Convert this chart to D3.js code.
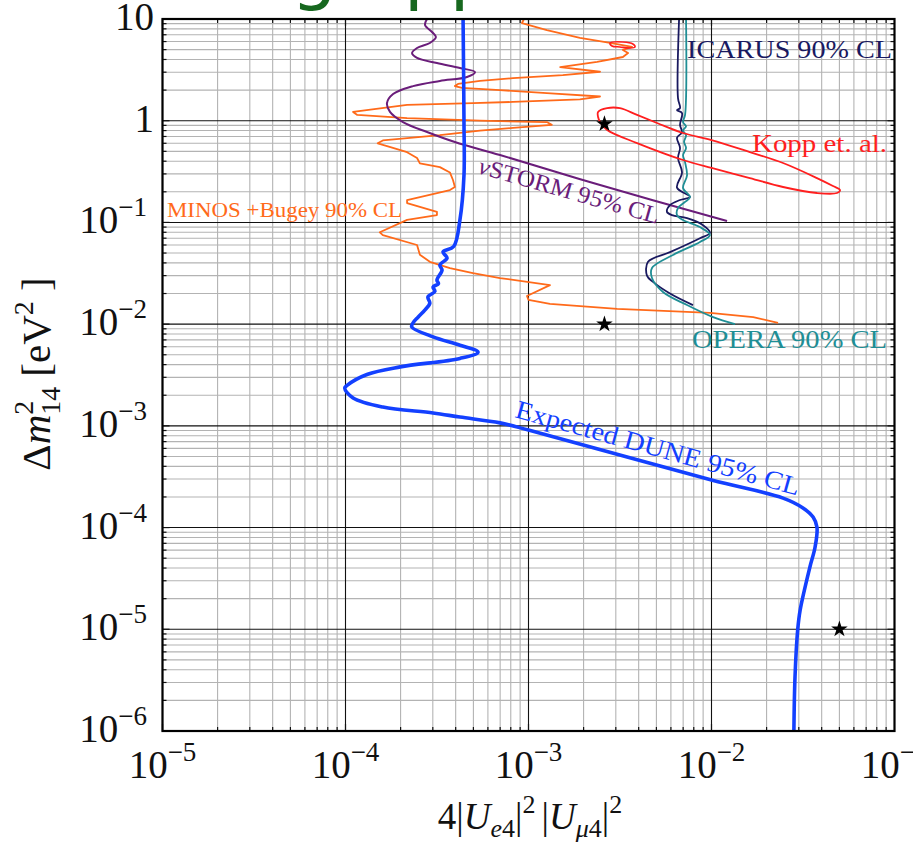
<!DOCTYPE html>
<html>
<head>
<meta charset="utf-8">
<script src="https://cdn.jsdelivr.net/npm/d3@7"></script>
<style>
  html, body { margin: 0; padding: 0; background: #fff; }
  svg { display: block; }
</style>
</head>
<body>
<svg id="chart" width="913" height="846"></svg>
<script>
// ---- Data: x = 4|Ue4|^2|Uμ4|^2, y = Δm²14 [eV²] ----
const duneExpected = [
  [4.39e-4, 10], [4.44e-4, 1], [4.44e-4, 0.29], [4.22e-4, 0.106], [3.90e-4, 0.058],
  [3.41e-4, 0.0512], [3.59e-4, 0.0447], [3.28e-4, 0.0381], [3.37e-4, 0.034],
  [3.16e-4, 0.0271], [3.22e-4, 0.025], [3.01e-4, 0.0232], [3.08e-4, 0.021], [2.82e-4, 0.0185],
  [2.89e-4, 0.0161], [2.72e-4, 0.0138], [2.49e-4, 0.0117], [2.34e-4, 0.0103],
  [2.30e-4, 0.0094], [3.01e-4, 0.0075], [4.22e-4, 0.0062], [5.30e-4, 0.0053],
  [4.22e-4, 0.0046], [1.99e-4, 0.0038], [1.31e-4, 0.0032], [1.02e-4, 0.0025],
  [9.9e-5, 0.00235], [1.10e-4, 0.00188], [1.60e-4, 0.00153], [3.01e-4, 0.00134],
  [4.22e-4, 0.00122], [6.99e-4, 0.00107], [1.0e-3, 9.1e-4], [1.0e-2, 2.93e-4],
  [0.0246, 1.95e-4], [0.0316, 1.56e-4], [0.0359, 1.27e-4], [0.0377, 1.01e-4],
  [0.0368, 6.4e-5], [0.0345, 4.1e-5], [0.0305, 1.54e-5], [0.0296, 1.0e-5],
  [0.0286, 3.4e-6], [0.0282, 1e-6]
];

const minosBugey = [
  [9.45e-4, 10], [9.21e-4, 9.13], [1.26e-3, 7.79], [1.91e-3, 6.51], [2.79e-3, 5.81],
  [3.68e-3, 5.31], [3.28e-3, 4.96], [3.50e-3, 4.63], [3.28e-3, 4.23], [2.37e-3, 3.78],
  [1.49e-3, 3.37], [2.46e-3, 3.03], [1.54e-3, 2.81], [8.23e-4, 2.62], [5.43e-4, 2.46],
  [4.12e-4, 2.30], [3.96e-4, 2.19], [4.33e-4, 2.10], [6.99e-4, 2.00], [1.26e-3, 1.87],
  [2.46e-3, 1.73], [1.91e-3, 1.62], [8.23e-4, 1.53], [4.97e-4, 1.49], [2.17e-4, 1.43],
  [1.10e-4, 1.22], [1.16e-4, 1.14], [2.17e-4, 1.06], [5.43e-4, 1.00], [1.26e-3, 0.97],
  [1.34e-3, 0.91], [8.23e-4, 0.85], [5.43e-4, 0.80], [3.28e-4, 0.72], [1.60e-4, 0.64],
  [1.50e-4, 0.60], [1.76e-4, 0.55], [2.17e-4, 0.49], [2.46e-4, 0.43], [2.55e-4, 0.38],
  [3.28e-4, 0.35], [3.72e-4, 0.31], [3.87e-4, 0.26], [3.96e-4, 0.223], [3.72e-4, 0.208],
  [2.17e-4, 0.166], [2.17e-4, 0.155], [3.16e-4, 0.127], [3.16e-4, 0.118], [2.17e-4, 0.106],
  [1.54e-4, 0.080], [1.60e-4, 0.075], [2.46e-4, 0.060], [2.55e-4, 0.048], [2.89e-4, 0.041],
  [3.72e-4, 0.0356], [4.97e-4, 0.0318], [6.99e-4, 0.0284], [1.31e-3, 0.0242],
  [9.81e-4, 0.0189], [1.0e-3, 0.0173], [1.31e-3, 0.0158], [3.05e-3, 0.0141],
  [9.81e-3, 0.0129], [0.0169, 0.0117], [0.0231, 0.0103]
];

const nuStorm = [
  [2.79e-4, 10], [2.72e-4, 8.73], [2.97e-4, 7.45], [3.12e-4, 6.65], [2.89e-4, 5.81],
  [2.46e-4, 5.19], [2.31e-4, 4.63], [2.46e-4, 4.14], [3.16e-4, 3.69], [4.22e-4, 3.30],
  [5.10e-4, 3.01], [4.61e-4, 2.69], [3.28e-4, 2.46], [2.34e-4, 2.19], [1.82e-4, 1.83],
  [1.685e-4, 1.49], [1.75e-4, 1.22], [2.06e-4, 0.971], [2.79e-4, 0.774], [3.96e-4, 0.617],
  [6.99e-4, 0.46], [2.46e-3, 0.233], [0.01216, 0.1032]
];

const icarus = [
  [6.65e-3, 10], [6.56e-3, 1.67], [6.73e-3, 1.33], [6.48e-3, 1.27], [6.90e-3, 1.19],
  [6.73e-3, 0.91], [6.90e-3, 0.77], [6.48e-3, 0.68], [6.73e-3, 0.54], [6.56e-3, 0.43],
  [6.90e-3, 0.31], [6.48e-3, 0.22], [7.63e-3, 0.178], [6.73e-3, 0.166], [5.93e-3, 0.148],
  [5.71e-3, 0.127], [6.08e-3, 0.118], [7.35e-3, 0.11], [8.99e-3, 0.094], [9.81e-3, 0.079],
  [8.65e-3, 0.070], [5.93e-3, 0.051], [4.50e-3, 0.041], [4.44e-3, 0.030], [4.79e-3, 0.026],
  [5.93e-3, 0.020], [7.92e-3, 0.0154]
];

const opera = [
  [7.26e-3, 10], [7.17e-3, 1.14], [6.99e-3, 0.97], [7.26e-3, 0.88], [6.99e-3, 0.80],
  [7.26e-3, 0.72], [7.08e-3, 0.62], [7.26e-3, 0.54], [6.99e-3, 0.46], [7.17e-3, 0.39],
  [7.35e-3, 0.29], [6.99e-3, 0.218], [7.63e-3, 0.178], [7.17e-3, 0.159], [6.56e-3, 0.1385],
  [6.48e-3, 0.118], [6.99e-3, 0.1056], [8.65e-3, 0.090], [9.81e-3, 0.0752], [8.65e-3, 0.0642],
  [6.16e-3, 0.0478], [4.73e-3, 0.0356], [4.73e-3, 0.0284], [5.43e-3, 0.0207],
  [7.35e-3, 0.0154], [0.0102, 0.0117], [0.01344, 0.0100]
];

const koppMain = [
  [2.40e-3, 1.22], [2.69e-3, 1.33], [3.16e-3, 1.33], [3.92e-3, 1.14], [5.04e-3, 0.95],
  [6.99e-3, 0.757], [0.010, 0.646], [0.0162, 0.492], [0.0246, 0.384], [0.0377, 0.273],
  [0.0461, 0.228], [0.0504, 0.208], [0.0485, 0.1946], [0.0377, 0.1946], [0.0246, 0.223],
  [0.0162, 0.273], [0.010, 0.343], [6.99e-3, 0.411], [3.92e-3, 0.603], [2.69e-3, 0.81],
  [2.46e-3, 0.971], [2.40e-3, 1.087]
];

const koppIsland = [
  [2.79e-3, 5.81], [3.28e-3, 5.94], [3.72e-3, 5.68], [3.82e-3, 5.31],
  [3.59e-3, 5.19], [3.16e-3, 5.31], [2.86e-3, 5.43]
];

const benchmarkPoints = [[2.6e-3, 0.93], [2.6e-3, 0.01], [0.05, 1e-5]];

const xTickValues = [1e-5, 1e-4, 1e-3, 1e-2, 1e-1];
const xTickExp = ["\u22125", "\u22124", "\u22123", "\u22122", "\u22121"];
const yTickValues = [1e-6, 1e-5, 1e-4, 1e-3, 1e-2, 1e-1, 1, 10];
const yTickBase = ["10", "10", "10", "10", "10", "10", "1", "10"];
const yTickExp = ["\u22126", "\u22125", "\u22124", "\u22123", "\u22122", "\u22121", "", ""];

// ---- Layout ----
const svg = d3.select("#chart");
const L = 162.5, R = 894.5, T = 19, B = 731;
const x = d3.scaleLog().domain([1e-5, 1e-1]).range([L, R]);
const y = d3.scaleLog().domain([1e-6, 10]).range([B, T]);
const serif = "'Liberation Serif', 'DejaVu Serif', serif";

// Heading, mostly above the page edge
const head = svg.append("text")
  .attr("x", 0).attr("y", -4)
  .style("font-family", "'DejaVu Sans', sans-serif")
  .style("font-size", "72px")
  .style("fill", "#17681f")
  .text("Sterile mixing appearance");
{
  const s = head.text();
  const idx = s.indexOf("pp");
  const p = head.node().getStartPositionOfChar(idx);
  head.attr("x", 404 - p.x);
}

// Grid
const grid = svg.append("g");
const minorX = [], majorX = [], minorY = [], majorY = [];
for (let e = -5; e <= -2; e++) for (let k = 1; k <= 9; k++) (k === 1 ? majorX : minorX).push(k * Math.pow(10, e));
for (let e = -6; e <= 0; e++) for (let k = 1; k <= 9; k++) (k === 1 ? majorY : minorY).push(k * Math.pow(10, e));
majorY.push(10);

grid.selectAll(".mx").data(minorX).join("line")
  .attr("x1", d => x(d)).attr("x2", d => x(d)).attr("y1", T).attr("y2", B)
  .attr("stroke", "#b3b3b3").attr("stroke-width", 1.1);
grid.selectAll(".my").data(minorY).join("line")
  .attr("y1", d => y(d)).attr("y2", d => y(d)).attr("x1", L).attr("x2", R)
  .attr("stroke", "#b3b3b3").attr("stroke-width", 1.1);
grid.selectAll(".Mx").data(majorX).join("line")
  .attr("x1", d => x(d)).attr("x2", d => x(d)).attr("y1", T).attr("y2", B)
  .attr("stroke", "#111").attr("stroke-width", 1.1);
grid.selectAll(".My").data(majorY).join("line")
  .attr("y1", d => y(d)).attr("y2", d => y(d)).attr("x1", L).attr("x2", R)
  .attr("stroke", "#111").attr("stroke-width", 1.1);

// Inward ticks on all four sides
const ticks = svg.append("g").attr("stroke", "#111").attr("stroke-width", 1.2);
[...minorY.map(v => [v, 4]), ...majorY.map(v => [v, 7])].forEach(([v, len]) => {
  ticks.append("line").attr("x1", L).attr("x2", L + len).attr("y1", y(v)).attr("y2", y(v));
  ticks.append("line").attr("x1", R).attr("x2", R - len).attr("y1", y(v)).attr("y2", y(v));
});
[...minorX.map(v => [v, 4]), ...majorX.map(v => [v, 7])].forEach(([v, len]) => {
  ticks.append("line").attr("y1", B).attr("y2", B - len).attr("x1", x(v)).attr("x2", x(v));
  ticks.append("line").attr("y1", T).attr("y2", T + len).attr("x1", x(v)).attr("x2", x(v));
});

// Curves
svg.append("clipPath").attr("id", "plotclip")
  .append("rect").attr("x", L).attr("y", T).attr("width", R - L).attr("height", B - T);
const plot = svg.append("g").attr("clip-path", "url(#plotclip)");

const lineSmooth = d3.line().x(d => x(d[0])).y(d => y(d[1])).curve(d3.curveCatmullRom.alpha(0.5));
const lineSharp = d3.line().x(d => x(d[0])).y(d => y(d[1])).curve(d3.curveLinear);
const loop = d3.line().x(d => x(d[0])).y(d => y(d[1])).curve(d3.curveCatmullRomClosed.alpha(0.5));

const C = {
  dune: "#1340ff", minos: "#ff6a1a", storm: "#6a1d7a",
  icarus: "#19195f", opera: "#1f8e95", kopp: "#ff1f1f"
};

plot.append("path").attr("d", lineSharp(minosBugey)).attr("fill", "none")
  .attr("stroke", C.minos).attr("stroke-width", 1.8).attr("stroke-linejoin", "round");
plot.append("path").attr("d", lineSmooth(nuStorm)).attr("fill", "none")
  .attr("stroke", C.storm).attr("stroke-width", 2);
plot.append("path").attr("d", lineSmooth(icarus)).attr("fill", "none")
  .attr("stroke", C.icarus).attr("stroke-width", 1.8);
plot.append("path").attr("d", lineSmooth(opera)).attr("fill", "none")
  .attr("stroke", C.opera).attr("stroke-width", 1.8);
plot.append("path").attr("d", loop(koppMain)).attr("fill", "none")
  .attr("stroke", C.kopp).attr("stroke-width", 1.8);
plot.append("path").attr("d", loop(koppIsland)).attr("fill", "none")
  .attr("stroke", C.kopp).attr("stroke-width", 1.6);
plot.append("path").attr("d", lineSmooth(duneExpected)).attr("fill", "none")
  .attr("stroke", C.dune).attr("stroke-width", 3.6).attr("stroke-linejoin", "round");

// Benchmark points
svg.append("g").selectAll("path").data(benchmarkPoints).join("path")
  .attr("transform", d => `translate(${x(d[0])},${y(d[1])})`)
  .attr("d", d3.symbol(d3.symbolStar, 85))
  .attr("fill", "#000");

// Frame
svg.append("rect").attr("x", L).attr("y", T).attr("width", R - L).attr("height", B - T)
  .attr("fill", "none").attr("stroke", "#000").attr("stroke-width", 2.2);

// Curve labels
const labels = [
  { parts: [["ICARUS 90% CL", "normal"]], x: 687, y: 58, size: 26, len: 205, rot: 0, color: C.icarus },
  { parts: [["Kopp et. al.", "normal"]], x: 752, y: 152, size: 26, len: 135, rot: 0, color: C.kopp },
  { parts: [["OPERA 90% CL", "normal"]], x: 692, y: 348, size: 26, len: 195, rot: 0, color: C.opera },
  { parts: [["MINOS +Bugey 90% CL", "normal"]], x: 167, y: 217, size: 21, len: 235, rot: 0, color: C.minos },
  { parts: [["\u03BD", "italic"], ["STORM 95% CL", "normal"]], x: 477, y: 173, size: 24, len: 187, rot: 15.8, color: C.storm },
  { parts: [["Expected DUNE 95% CL", "normal"]], x: 514, y: 417, size: 26, len: 294, rot: 15.5, color: C.dune }
];
labels.forEach(l => {
  const t = svg.append("text")
    .attr("transform", `translate(${l.x},${l.y}) rotate(${l.rot})`)
    .attr("textLength", l.len).attr("lengthAdjust", "spacingAndGlyphs")
    .style("font-family", serif).style("font-size", l.size + "px").style("fill", l.color);
  l.parts.forEach(([s, st]) => t.append("tspan").style("font-style", st).text(s));
});

// Tick labels
xTickValues.forEach((v, i) => {
  const t = svg.append("text").attr("x", x(v)).attr("y", 778).attr("text-anchor", "middle")
    .style("font-family", serif).style("font-size", "39px").style("fill", "#111");
  t.append("tspan").text("10");
  t.append("tspan").attr("dy", -17).style("font-size", "27px").text(xTickExp[i]);
});
yTickValues.forEach((v, i) => {
  const hasExp = yTickExp[i] !== "";
  const t = svg.append("text").attr("x", hasExp ? 147 : 154).attr("y", y(v) + 11)
    .attr("text-anchor", "end")
    .style("font-family", serif).style("font-size", "39px").style("fill", "#111");
  t.append("tspan").text(yTickBase[i]);
  if (hasExp) t.append("tspan").attr("dy", -17).style("font-size", "27px").text(yTickExp[i]);
});

// Axis titles
const xt = svg.append("text").attr("x", 530).attr("y", 829).attr("text-anchor", "middle")
  .style("font-family", serif).style("font-size", "37px").style("fill", "#111");
xt.append("tspan").text("4|");
xt.append("tspan").style("font-style", "italic").text("U");
xt.append("tspan").attr("dy", 8).style("font-size", "26px").style("font-style", "italic").text("e");
xt.append("tspan").style("font-size", "26px").text("4");
xt.append("tspan").attr("dy", -8).text("|");
xt.append("tspan").attr("dy", -16).style("font-size", "26px").text("2");
xt.append("tspan").attr("dy", 16).attr("dx", 6).text("|");
xt.append("tspan").style("font-style", "italic").text("U");
xt.append("tspan").attr("dy", 8).style("font-size", "26px").style("font-style", "italic").text("\u03BC");
xt.append("tspan").style("font-size", "26px").text("4");
xt.append("tspan").attr("dy", -8).text("|");
xt.append("tspan").attr("dy", -16).style("font-size", "26px").text("2");

const yt = svg.append("text").attr("transform", "translate(50,374) rotate(-90)")
  .attr("text-anchor", "middle")
  .style("font-family", serif).style("font-size", "41px").style("fill", "#111");
yt.append("tspan").text("\u0394");
yt.append("tspan").style("font-style", "italic").text("m");
yt.append("tspan").attr("dy", -17).style("font-size", "28px").text("2");
yt.append("tspan").attr("dx", -14).attr("dy", 27).style("font-size", "28px").text("14");
yt.append("tspan").attr("dx", 10).attr("dy", -10).text("[eV");
yt.append("tspan").attr("dy", -17).style("font-size", "28px").text("2");
yt.append("tspan").attr("dy", 17).text(" ]");
</script>
</body>
</html>
